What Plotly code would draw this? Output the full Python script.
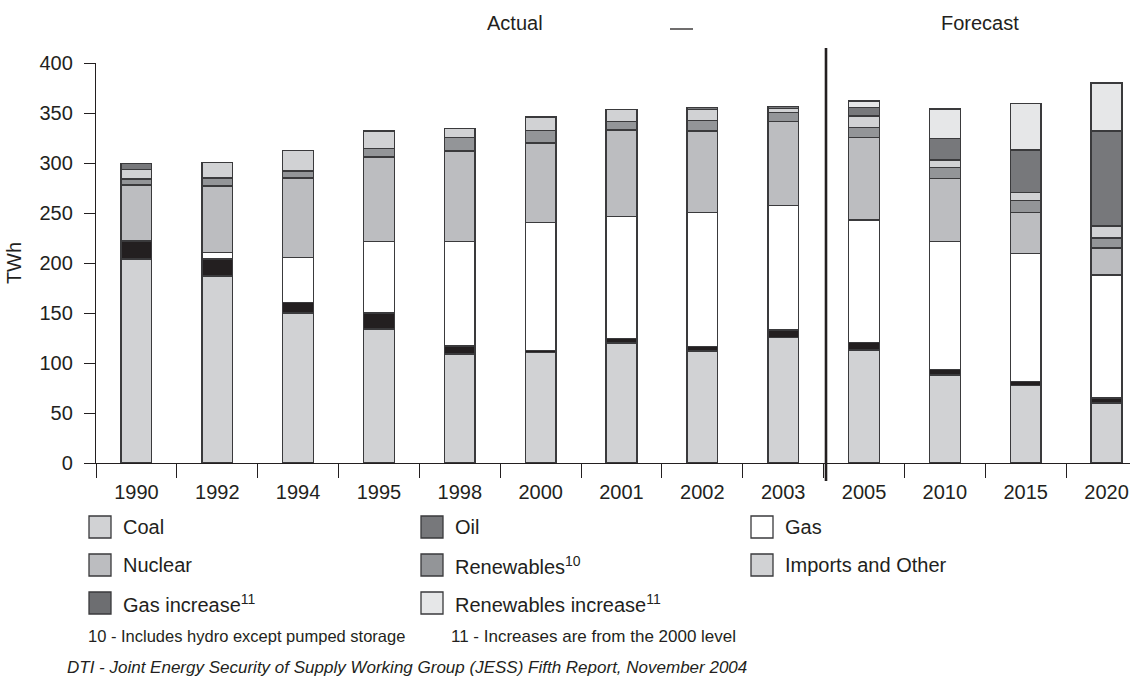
import plotly.graph_objects as go

# Electricity supply by source, TWh
years = ["1990", "1992", "1994", "1995", "1998", "2000", "2001",
         "2002", "2003", "2005", "2010", "2015", "2020"]

coal = [204, 187, 150, 134, 109, 110.5, 120, 112, 125.7, 113, 88, 77.7, 60]
oil = [18, 17, 10.5, 16, 8, 2, 4.7, 4.3, 7.3, 7.7, 5.7, 3.6, 5]
gas = [0, 6.7, 45, 71.5, 104.3, 128, 121.6, 134.4, 124.3, 122.3, 127.6, 128.4, 123]
nuclear = [56, 66.5, 79.5, 84.7, 90.7, 79.4, 86.7, 81.3, 84, 82.3, 63.4, 41, 27]
renewables = [6, 8, 7, 8.5, 13.3, 12.6, 8.7, 10.7, 9.4, 10.4, 10.6, 11.6, 10]
imports_other = [9.5, 15.3, 20.7, 17.3, 9.4, 13.4, 12, 11, 4, 11.3, 7.7, 8.4, 12]
gas_increase = [6, 0, 0, 0, 0, 0, 0, 1.7, 1.6, 8.3, 21.7, 42.3, 95]
renewables_increase = [0, 0, 0, 0, 0, 0, 0, 0, 0, 6.7, 29.3, 46.7, 48]

series = [
    ("Coal", coal, "#d1d2d4"),
    ("Oil", oil, "#231f20"),
    ("Gas", gas, "#ffffff"),
    ("Nuclear", nuclear, "#bcbdc0"),
    ("Renewables", renewables, "#939598"),
    ("Imports and Other", imports_other, "#d1d2d4"),
    ("Gas increase", gas_increase, "#77787b"),
    ("Renewables increase", renewables_increase, "#e6e7e8"),
]

INK = "#231f20"
FONT = "Liberation Sans, Arial, sans-serif"
W, H = 1130, 682
L, R, T, B = 96, 0, 63, 219

fig = go.Figure()
for name, vals, col in series:
    fig.add_trace(go.Bar(
        x=years, y=vals, name=name, width=0.38,
        marker=dict(color=col, line=dict(color="#3a3a3c", width=1.4)),
        showlegend=False,
    ))


def px(x):
    return (x - L) / (W - L - R)


def py(y):
    return (H - B - y) / (H - T - B)


shapes = []
annotations = []

# forecast divider
shapes.append(dict(type="line", xref="paper", yref="paper",
                   x0=px(826), x1=px(826), y0=py(48), y1=py(481),
                   line=dict(color=INK, width=2.6)))

# header
annotations += [
    dict(text="Actual", x=px(515), y=py(23), xanchor="center"),
    dict(text="Forecast", x=px(980), y=py(23), xanchor="center"),
]
shapes.append(dict(type="line", xref="paper", yref="paper",
                   x0=px(670), x1=px(693), y0=py(29), y1=py(29),
                   line=dict(color=INK, width=1.3)))

# legend grid
legend_items = [
    ("Coal", "#d1d2d4", 89, 516),
    ("Oil", "#77787b", 421, 516),
    ("Gas", "#ffffff", 751, 516),
    ("Nuclear", "#bcbdc0", 89, 554),
    ("Renewables<sup>10</sup>", "#939598", 421, 554),
    ("Imports and Other", "#d1d2d4", 751, 554),
    ("Gas increase<sup>11</sup>", "#6d6e71", 89, 592),
    ("Renewables increase<sup>11</sup>", "#e6e7e8", 421, 592),
]
for label, col, x0, y0 in legend_items:
    shapes.append(dict(type="rect", xref="paper", yref="paper",
                       x0=px(x0), x1=px(x0 + 22), y0=py(y0), y1=py(y0 + 22),
                       fillcolor=col, line=dict(color="#3a3a3c", width=1.3)))
    annotations.append(dict(text=label, x=px(x0 + 32), y=py(y0 + 11),
                            xanchor="left"))

annotations += [
    dict(text="10 - Includes hydro except pumped storage", x=px(86), y=py(636),
         xanchor="left", font=dict(family=FONT, size=16.5, color=INK)),
    dict(text="11 - Increases are from the 2000 level", x=px(449), y=py(636),
         xanchor="left", font=dict(family=FONT, size=17, color=INK)),
    dict(text="<i>DTI - Joint Energy Security of Supply Working Group (JESS) Fifth Report, November 2004</i>",
         x=px(65), y=py(667), xanchor="left",
         font=dict(family=FONT, size=17, color=INK)),
]

for a in annotations:
    a.setdefault("xref", "paper")
    a.setdefault("yref", "paper")
    a.setdefault("showarrow", False)
    a.setdefault("yanchor", "middle")
    a.setdefault("font", dict(family=FONT, size=20, color=INK))

fig.update_layout(
    width=W, height=H, barmode="stack",
    margin=dict(l=L, r=R, t=T, b=B, autoexpand=False),
    paper_bgcolor="white", plot_bgcolor="white",
    font=dict(family=FONT, size=20, color=INK),
    shapes=shapes, annotations=annotations,
    xaxis=dict(
        range=[-0.5, 12.29], showline=True, linecolor=INK, linewidth=1.3,
        ticks="outside", tickson="boundaries", ticklen=14, tickcolor=INK,
        tickwidth=1.3, showgrid=False, ticklabelstandoff=11,
        tickfont=dict(size=20, color=INK),
    ),
    yaxis=dict(
        range=[0, 400], dtick=50, showline=True, linecolor=INK, linewidth=1.3,
        ticks="outside", ticklen=11, tickcolor=INK, tickwidth=1.3,
        showgrid=False, zeroline=False, ticklabelstandoff=7,
        tickfont=dict(size=20, color=INK),
        title=dict(text="TWh", font=dict(size=20, color=INK), standoff=12),
    ),
)

fig.write_html("out.html")
